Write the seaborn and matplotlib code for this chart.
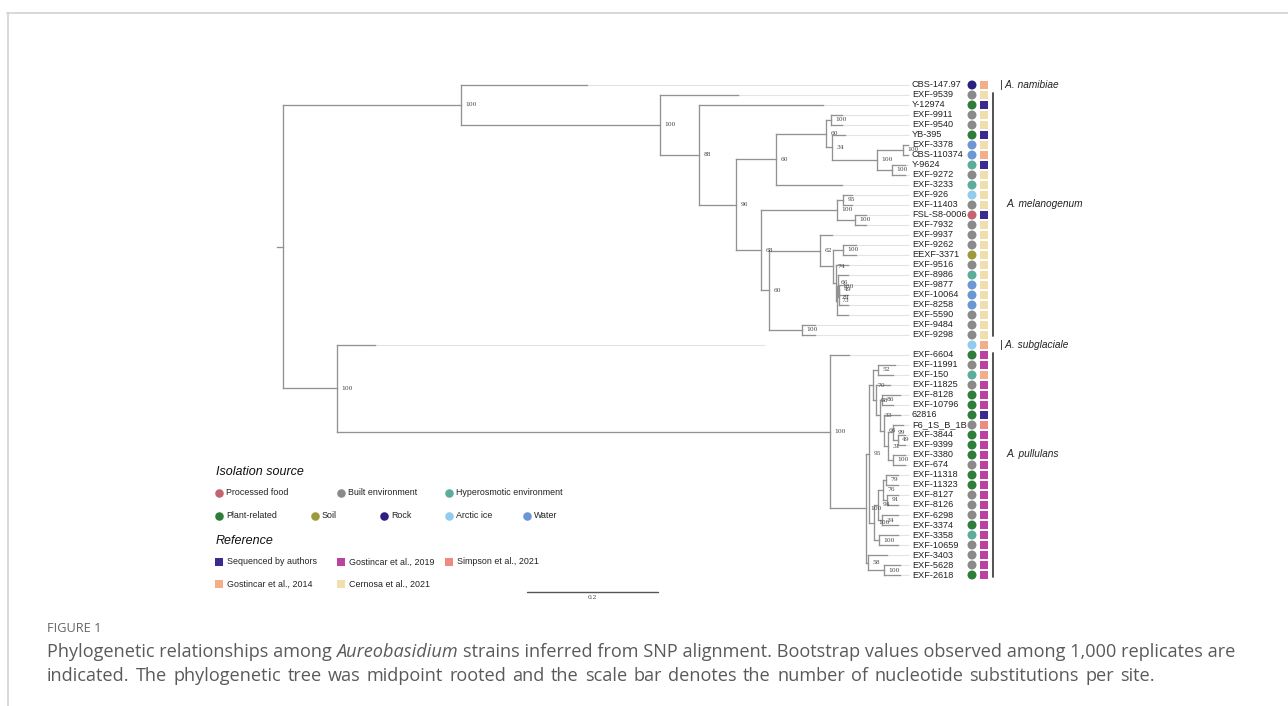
import numpy as np
import pandas as pd
import matplotlib
matplotlib.use("Agg")
import matplotlib.pyplot as plt
import seaborn as sns

# ---------------- data ----------------
# Tree (Newick): bootstrap support after ')' and branch lengths (substitutions/site)
TREE_NEWICK = (
    "((CBS-147.97:0.1924,(EXF-9539:0.1191,(Y-12974:0.1893,"
    "((((EXF-9911:0.0168,EXF-9540:0.0168)100:0.0076,(YB-395:0.0198,"
    "((EXF-3378:0.0076,CBS-110374:0.0076)100:0.0397,(Y-9624:0.0198,EXF-9272:0.0198)100:0.0229)100:0.0687)34:0.0092)60:0.0763,"
    "EXF-3233:0.1008)60:0.0611,"
    "(((EXF-926:0.0137,EXF-11403:0.0137)95:0.0092,(FSL-S8-0006:0.0168,EXF-7932:0.0168)100:0.0275)100:0.1160,"
    "((EXF-9937:0.0183,((EXF-9262:0.0198,EEXF-3371:0.0198)100:0.0153,"
    "(EXF-9516:0.0183,((EXF-8986:0.0153,((EXF-9877:0.0137,EXF-10064:0.0137)49:0.0008,EXF-8258:0.0145)81:0.0008)100:0.0015,"
    "EXF-5590:0.0168)73:0.0015)66:0.0046)74:0.0198)62:0.0779,"
    "(EXF-9484:0.0198,EXF-9298:0.0198)100:0.0504)60:0.0122)68:0.0382)96:0.0565)88:0.0595)100:0.3038)100:0.2718,"
    "(SUBGLACIALE:0.0580,(EXF-6604:0.0290,"
    "((((EXF-11991:0.0260,EXF-150:0.0229)52:0.0076,(EXF-11825:0.0214,"
    "((EXF-8128:0.0275,EXF-10796:0.0168)86:0.0031,(62816:0.0244,"
    "((F6_1S_B_1B:0.0153,(EXF-3844:0.0107,EXF-9399:0.0107)49:0.0076)99:0.0076,"
    "(EXF-3380:0.0183,EXF-674:0.0183)100:0.0076)31:0.0061)66:0.0061)33:0.0061)98:0.0046)70:0.0061,"
    "((((EXF-11318:0.0183,EXF-11323:0.0183)79:0.0046,(EXF-8127:0.0168,EXF-8126:0.0168)91:0.0061)76:0.0076,"
    "(EXF-6298:0.0244,EXF-3374:0.0244)34:0.0061)94:0.0061,"
    "(EXF-3358:0.0290,EXF-10659:0.0290)100:0.0076)100:0.0076)95:0.0046,"
    "(EXF-3403:0.0290,(EXF-5628:0.0244,EXF-2618:0.0244)100:0.0244)58:0.0031)100:0.0550)100:0.7527)100:0.0824):0.0092"
)

strains = ["CBS-147.97", "EXF-9539", "Y-12974", "EXF-9911", "EXF-9540", "YB-395", "EXF-3378",
           "CBS-110374", "Y-9624", "EXF-9272", "EXF-3233", "EXF-926", "EXF-11403", "FSL-S8-0006",
           "EXF-7932", "EXF-9937", "EXF-9262", "EEXF-3371", "EXF-9516", "EXF-8986", "EXF-9877",
           "EXF-10064", "EXF-8258", "EXF-5590", "EXF-9484", "EXF-9298", "SUBGLACIALE", "EXF-6604",
           "EXF-11991", "EXF-150", "EXF-11825", "EXF-8128", "EXF-10796", "62816", "F6_1S_B_1B",
           "EXF-3844", "EXF-9399", "EXF-3380", "EXF-674", "EXF-11318", "EXF-11323", "EXF-8127",
           "EXF-8126", "EXF-6298", "EXF-3374", "EXF-3358", "EXF-10659", "EXF-3403", "EXF-5628",
           "EXF-2618"]
hidden_labels = ["SUBGLACIALE"]

isolation_source = ["Rock", "Built environment", "Plant-related", "Built environment", "Built environment",
                    "Plant-related", "Water", "Water", "Hyperosmotic environment", "Built environment",
                    "Hyperosmotic environment", "Arctic ice", "Built environment", "Processed food",
                    "Built environment", "Built environment", "Built environment", "Soil",
                    "Built environment", "Hyperosmotic environment", "Water", "Water", "Water",
                    "Built environment", "Built environment", "Built environment", "Arctic ice",
                    "Plant-related", "Built environment", "Hyperosmotic environment", "Built environment",
                    "Plant-related", "Plant-related", "Plant-related", "Built environment",
                    "Plant-related", "Plant-related", "Plant-related", "Built environment",
                    "Plant-related", "Plant-related", "Built environment", "Built environment",
                    "Built environment", "Plant-related", "Hyperosmotic environment", "Built environment",
                    "Built environment", "Built environment", "Plant-related"]

reference = (["Gostincar et al., 2014", "Cernosa et al., 2021", "Sequenced by authors",
              "Cernosa et al., 2021", "Cernosa et al., 2021", "Sequenced by authors",
              "Cernosa et al., 2021", "Gostincar et al., 2014", "Sequenced by authors",
              "Cernosa et al., 2021", "Cernosa et al., 2021", "Cernosa et al., 2021",
              "Cernosa et al., 2021", "Sequenced by authors"]
             + ["Cernosa et al., 2021"] * 12
             + ["Gostincar et al., 2014", "Gostincar et al., 2019", "Gostincar et al., 2019",
                "Gostincar et al., 2014", "Gostincar et al., 2019", "Gostincar et al., 2019",
                "Gostincar et al., 2019", "Sequenced by authors", "Simpson et al., 2021"]
             + ["Gostincar et al., 2019"] * 15)

source_names = ["Processed food", "Built environment", "Hyperosmotic environment",
                "Plant-related", "Soil", "Rock", "Arctic ice", "Water"]
source_colors = ["#c4646f", "#8a8a8a", "#5cae9b", "#2f7d3b", "#9c9a3c", "#2b2180", "#93cbec", "#6b98d4"]
reference_names = ["Sequenced by authors", "Gostincar et al., 2019", "Simpson et al., 2021",
                   "Gostincar et al., 2014", "Cernosa et al., 2021"]
reference_colors = ["#3c2b8e", "#bb439f", "#ee8b80", "#f2ae86", "#f0deae"]

clade_names = ["A. namibiae", "A. melanogenum", "A. subglaciale", "A. pullulans"]
clade_first = ["CBS-147.97", "EXF-9539", "SUBGLACIALE", "EXF-6604"]
clade_last = ["CBS-147.97", "EXF-9298", "SUBGLACIALE", "EXF-2618"]

scale_bar_length = 0.2

caption_title = "FIGURE 1"
caption_line1 = ["Phylogenetic relationships among", "Aureobasidium",
                 "strains inferred from SNP alignment. Bootstrap values observed among 1,000 replicates are"]
caption_line2 = ("indicated. The phylogenetic tree was midpoint rooted and the scale bar denotes the number "
                 "of nucleotide substitutions per site.")


# ---------------- tree parsing / layout ----------------
def parse_newick(s):
    s = s.strip().rstrip(";")
    pos = 0

    def node():
        nonlocal pos
        n = {"children": [], "name": "", "support": "", "length": 0.0}
        if s[pos] == "(":
            pos += 1
            while True:
                n["children"].append(node())
                if s[pos] == ",":
                    pos += 1
                    continue
                if s[pos] == ")":
                    pos += 1
                    break
        start = pos
        while pos < len(s) and s[pos] not in ":,()":
            pos += 1
        lab = s[start:pos]
        if n["children"]:
            n["support"] = lab
        else:
            n["name"] = lab
        if pos < len(s) and s[pos] == ":":
            pos += 1
            start = pos
            while pos < len(s) and s[pos] not in ",()":
                pos += 1
            n["length"] = float(s[start:pos])
        return n

    return node()


root = parse_newick(TREE_NEWICK)
leaf_y = {name: i for i, name in enumerate(strains)}


def layout(n, x0):
    n["x"] = x0 + n["length"]
    if not n["children"]:
        n["y"] = leaf_y[n["name"]]
    else:
        for c in n["children"]:
            layout(c, n["x"])
        n["y"] = (n["children"][0]["y"] + n["children"][-1]["y"]) / 2.0


layout(root, 0.0)

h_segs, v_segs, tips, supports = [], [], [], []


def collect(n, parent_x):
    h_segs.append(((parent_x, n["y"]), (n["x"], n["y"])))
    if n["children"]:
        v_segs.append(((n["x"], n["children"][0]["y"]), (n["x"], n["children"][-1]["y"])))
        if n["support"]:
            supports.append((n["x"], n["y"], n["support"]))
        for c in n["children"]:
            collect(c, n["x"])
    else:
        tips.append((n["name"], n["x"], n["y"]))


collect(root, 0.0)

# ---------------- figure ----------------
sns.set_theme(style="white")
plt.rcParams["font.family"] = ["Liberation Sans", "DejaVu Sans"]

W, H = 1288, 706
PPU = 655.0            # pixels per substitution unit
X0, Y0, ROW = 277.0, 85.0, 10.0


def dx(px):
    return (px - X0) / PPU


def dy(py):
    return (py - Y0) / ROW


fig = plt.figure(figsize=(W / 100, H / 100), dpi=100)
ax = fig.add_axes([0, 0, 1, 1])

branch_col = "#929292"
label_x = dx(912)
circle_x = dx(972)
square_x = dx(984)
bar_x = dx(993)

# tip extension lines
for name, x, y in tips:
    end = dx(765) if name in hidden_labels else label_x - 0.004
    ax.plot([x, end], [y, y], color="#e3e3e3", lw=0.8, zorder=1, solid_capstyle="butt")

# branches
for (x1, y1), (x2, y2) in h_segs + v_segs:
    ax.plot([x1, x2], [y1, y2], color=branch_col, lw=0.95, zorder=2, solid_capstyle="projecting")

# bootstrap labels
for x, y, s in supports:
    ax.text(x + 0.0065, y, s, fontsize=4.3, family="DejaVu Serif", color="#444444",
            ha="left", va="center", zorder=3)

# leaf labels
for name, x, y in tips:
    if name in hidden_labels:
        continue
    ax.text(label_x, y, name, fontsize=6.6, color="#222222", ha="left", va="center", zorder=3)

# leaf markers (seaborn)
df = pd.DataFrame({"strain": strains, "source": isolation_source, "reference": reference})
df["y"] = df["strain"].map(leaf_y)
df["cx"] = circle_x
df["sx"] = square_x
sns.scatterplot(data=df, x="cx", y="y", hue="source", hue_order=source_names,
                palette=source_colors, marker="o", s=42, linewidth=0, legend=False, ax=ax, zorder=4)
sns.scatterplot(data=df, x="sx", y="y", hue="reference", hue_order=reference_names,
                palette=reference_colors, marker="s", s=32, linewidth=0, legend=False, ax=ax, zorder=4)

# clade bars and names
for cname, f, l in zip(clade_names, clade_first, clade_last):
    y1, y2 = leaf_y[f], leaf_y[l]
    if y1 == y2:
        ax.text(dx(1000), y1, "| " + cname, fontsize=7.3, style="italic", color="#222222",
                ha="left", va="center")
    else:
        ax.plot([bar_x, bar_x], [y1 - 0.15, y2 + 0.15], color="#444444", lw=1.3)
        ax.text(dx(1006), (y1 + y2) / 2 - 1.1, cname, fontsize=7.3, style="italic",
                color="#222222", ha="left", va="center")

# scale bar
sb_x0 = dx(527)
sb_y = dy(592)
ax.plot([sb_x0, sb_x0 + scale_bar_length], [sb_y, sb_y], color="#555555", lw=1.0)
ax.text(sb_x0 + scale_bar_length / 2, sb_y + 0.55, f"{scale_bar_length}", fontsize=4.3,
        family="DejaVu Serif", color="#444444", ha="center", va="center")

# legend: isolation source
ax.text(dx(216), dy(472), "Isolation source", fontsize=9, style="italic", color="#111111",
        ha="left", va="center")
src_pos = [(219, 493), (341, 493), (449, 493), (219, 516), (315, 516), (384, 516), (449, 516), (527, 516)]
for (px_, py_), nm, col in zip(src_pos, source_names, source_colors):
    ax.scatter([dx(px_)], [dy(py_)], s=38, marker="o", color=col, linewidth=0)
    ax.text(dx(px_ + 7), dy(py_), nm, fontsize=6.4, color="#222222", ha="left", va="center")

ax.text(dx(216), dy(541), "Reference", fontsize=9, style="italic", color="#111111",
        ha="left", va="center")
ref_pos = [(219, 562), (341, 562), (449, 562), (219, 584), (341, 584)]
for (px_, py_), nm, col in zip(ref_pos, reference_names, reference_colors):
    ax.scatter([dx(px_)], [dy(py_)], s=30, marker="s", color=col, linewidth=0)
    ax.text(dx(px_ + 8), dy(py_), nm, fontsize=6.4, color="#222222", ha="left", va="center")

# frame lines
ax.plot([dx(7.5), dx(7.5)], [dy(13), dy(H)], color="#d2d2d2", lw=1.2)
ax.plot([dx(7), dx(W)], [dy(13), dy(13)], color="#d2d2d2", lw=1.2)

ax.set_xlim(dx(0), dx(W))
ax.set_ylim(dy(H), dy(0))
ax.set_axis_off()

# caption
cap_font = ["Open Sans", "DejaVu Sans"]
ax.text(dx(47), dy(628), caption_title, fontsize=9.2, family=cap_font, color="#666666",
        ha="left", va="center")
fig.canvas.draw()
renderer = fig.canvas.get_renderer()


def text_width(s, **kw):
    t = ax.text(0, 0, s, **kw)
    w = t.get_window_extent(renderer).width
    t.remove()
    return w


cap_kw = dict(fontsize=13.1, family=cap_font, color="#5a5a5a")
space_w = text_width("a a", **cap_kw) - text_width("aa", **cap_kw)
xpos = 47.0
for k, piece in enumerate(caption_line1):
    style = "italic" if k == 1 else "normal"
    t = ax.text(dx(xpos), dy(652), piece, style=style, ha="left", va="center", **cap_kw)
    xpos += t.get_window_extent(renderer).width + space_w
# second line: word by word with slightly wider word spacing
xpos = 47.0
for word in caption_line2.split(" "):
    t = ax.text(dx(xpos), dy(676), word, ha="left", va="center", **cap_kw)
    xpos += t.get_window_extent(renderer).width + space_w + 1.5

fig.savefig("out.png", dpi=100, facecolor="white")
